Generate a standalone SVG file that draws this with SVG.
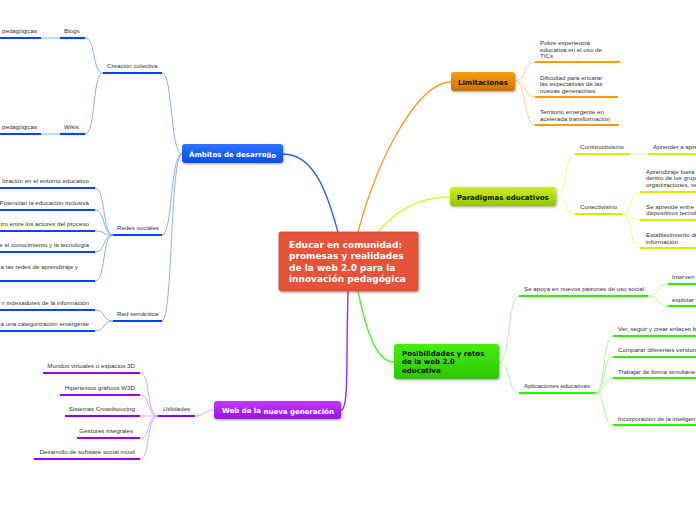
<svg xmlns="http://www.w3.org/2000/svg" width="696" height="520" viewBox="0 0 696 520">
<defs>
<filter id="sh" x="-10%" y="-10%" width="130%" height="140%"><feDropShadow dx="0.8" dy="1.2" stdDeviation="0.9" flood-color="#000" flood-opacity="0.35"/></filter>
<linearGradient id="gB" x1="0" y1="0" x2="0" y2="1"><stop offset="0" stop-color="#2f74ff"/><stop offset="1" stop-color="#0a4ee8"/></linearGradient>
<linearGradient id="gO" x1="0" y1="0" x2="0" y2="1"><stop offset="0" stop-color="#f99d12"/><stop offset="1" stop-color="#c97400"/></linearGradient>
<linearGradient id="gY" x1="0" y1="0" x2="0" y2="1"><stop offset="0" stop-color="#d2f01a"/><stop offset="1" stop-color="#92c400"/></linearGradient>
<linearGradient id="gG" x1="0" y1="0" x2="0" y2="1"><stop offset="0" stop-color="#44f010"/><stop offset="1" stop-color="#2cc600"/></linearGradient>
<linearGradient id="gP" x1="0" y1="0" x2="0" y2="1"><stop offset="0" stop-color="#c03cff"/><stop offset="1" stop-color="#9a10e8"/></linearGradient>
</defs>
<style>
.t{font-family:"Liberation Sans",Arial,sans-serif;font-size:6.2px;fill:#333}
.e{text-anchor:end}
.nb{font-family:"DejaVu Sans",Verdana,sans-serif;font-weight:bold;font-size:7px}
.w{fill:#fff}
.k{fill:#111}
.c{fill:none;stroke-width:0.9}
.m{fill:none;stroke-width:1.4}
.ub{stroke:#0a44f0;stroke-width:2.2}
.uo{stroke:#ff9a00;stroke-width:2.2}
.uy{stroke:#ccf000;stroke-width:2.2}
.ug{stroke:#33ee00;stroke-width:2.2}
.up{stroke:#9a00ee;stroke-width:2.2}
.cb{stroke:#7fa4ff}
.co{stroke:#ffc980}
.cy{stroke:#e4ff70}
.cg{stroke:#9dff8a}
.cp{stroke:#d99cff}
</style>

<g id="connectors">
<path class="m" stroke="#2563ff" d="M283,154 C318,154 330,205 338,232"/>
<path class="m" stroke="#ff9a1a" d="M358,232 C380,150 420,82 451,82"/>
<path class="m" stroke="#d4f53a" d="M378,232 C400,205 425,197 450,197"/>
<path class="m" stroke="#55f530" d="M358,291 C366,330 376,362 394,362"/>
<path class="m" stroke="#a925ee" d="M348,291 C346,360 349,410 341,410"/>
<!-- Ambitos -->
<path class="c cb" d="M182,154 C170,154 173,73 162,73"/>
<path class="c cb" d="M182,154 C170,154 173,235 162,235"/>
<path class="c cb" d="M182,154 C170,154 173,321 162,321"/>
<path class="c cb" d="M103,73 C92,73 96,38 85,38"/>
<path class="c cb" d="M103,73 C92,73 96,134 85,134"/>
<path class="c cb" d="M41,38 H60 M41,134 H60"/>
<path class="c cb" d="M113,235 C102,235 106,188 95,188"/>
<path class="c cb" d="M113,235 C102,235 106,210 95,210"/>
<path class="c cb" d="M113,235 C102,235 106,231 95,231"/>
<path class="c cb" d="M113,235 C102,235 106,252 95,252"/>
<path class="c cb" d="M113,235 C102,235 106,281 95,281"/>
<path class="c cb" d="M113,321 C102,321 106,310 95,310"/>
<path class="c cb" d="M113,321 C102,321 106,331 95,331"/>
<!-- Web -->
<path class="c cp" d="M214,410 C204,410 205,416 195,416"/>
<path class="c cp" d="M158,416 C146,416 151,373 140,373"/>
<path class="c cp" d="M158,416 C146,416 151,395 140,395"/>
<path class="c cp" d="M158,416 H140"/>
<path class="c cp" d="M158,416 C146,416 151,438 140,438"/>
<path class="c cp" d="M158,416 C146,416 151,459 140,459"/>
<!-- Limitaciones -->
<path class="c co" d="M515,81 C526,81 524,62 535,62"/>
<path class="c co" d="M515,81 C526,81 524,97 535,97"/>
<path class="c co" d="M515,81 C526,81 524,125 535,125"/>
<!-- Paradigmas -->
<path class="c cy" d="M556,197 C567,197 564,154 575,154"/>
<path class="c cy" d="M556,197 C567,197 564,214 575,214"/>
<path class="c cy" d="M630,154 H648"/>
<path class="c cy" d="M622,214 C633,214 629,192 640,192"/>
<path class="c cy" d="M622,214 C633,214 629,220 640,220"/>
<path class="c cy" d="M622,214 C633,214 629,248 640,248"/>
<!-- Posibilidades -->
<path class="c cg" d="M499,362 C511,362 507,296 519,296"/>
<path class="c cg" d="M499,362 C511,362 507,393 519,393"/>
<path class="c cg" d="M648,296 C659,296 657,284 668,284"/>
<path class="c cg" d="M648,296 C659,296 657,306 668,306"/>
<path class="c cg" d="M595,393 C606,393 602,336 613,336"/>
<path class="c cg" d="M595,393 C606,393 602,357 613,357"/>
<path class="c cg" d="M595,393 C606,393 602,378 613,378"/>
<path class="c cg" d="M595,393 C606,393 602,425 613,425"/>
</g>

<g id="center">
<rect x="279" y="232" width="139" height="59" rx="2" fill="#e5533a" stroke="#d24a33" stroke-width="0.8" filter="url(#sh)"/>
<text font-family="DejaVu Sans,Verdana,sans-serif" font-weight="bold" font-size="9px" fill="#fff">
<tspan x="289" y="248">Educar en comunidad:</tspan>
<tspan x="289" y="259.3">promesas y realidades</tspan>
<tspan x="289" y="270.6">de la web 2.0 para la</tspan>
<tspan x="289" y="281.9">innovación pedagógica</tspan>
</text>
</g>

<g id="ambitos">
<rect x="182" y="144" width="101" height="19" rx="3" fill="url(#gB)" filter="url(#sh)"/>
<text class="nb w" x="189" y="157">Ámbitos de desarro<tspan dy="0.8">llo</tspan></text>
</g>
<g id="creacion"><line class="ub" x1="103" y1="73" x2="162" y2="73"/><text class="t" x="107" y="68">Creación colectiva</text></g>
<g id="blogs"><line class="ub" x1="60" y1="38" x2="85" y2="38"/><text class="t" x="64" y="33">Blogs</text></g>
<g id="blogs-c"><line class="ub" x1="0" y1="38" x2="41" y2="38"/><text class="t" x="2" y="33">pedagógicas</text></g>
<g id="wikis"><line class="ub" x1="60" y1="134" x2="85" y2="134"/><text class="t" x="64" y="129">Wikis</text></g>
<g id="wikis-c"><line class="ub" x1="0" y1="134" x2="41" y2="134"/><text class="t" x="2" y="129">pedagógicas</text></g>
<g id="redes"><line class="ub" x1="113" y1="235" x2="162" y2="235"/><text class="t" x="117" y="230">Redes sociales</text></g>
<g id="redes-1"><line class="ub" x1="0" y1="188" x2="95" y2="188"/><text class="t e" x="89" y="183">lización  en el entorno educativo</text></g>
<g id="redes-2"><line class="ub" x1="0" y1="210" x2="95" y2="210"/><text class="t e" x="89" y="205">Potencian la educación inclusiva</text></g>
<g id="redes-3"><line class="ub" x1="0" y1="231" x2="95" y2="231"/><text class="t e" x="89" y="226">tro entre los actores del proceso</text></g>
<g id="redes-4"><line class="ub" x1="0" y1="252" x2="95" y2="252"/><text class="t e" x="89" y="247">e el conocimiento y la tecnología</text></g>
<g id="redes-5"><line class="ub" x1="0" y1="281" x2="95" y2="281"/><text class="t e" x="78" y="269">a las redes de aprendizaje y</text></g>
<g id="semantica"><line class="ub" x1="113" y1="321" x2="162" y2="321"/><text class="t" x="117" y="316">Red semántica</text></g>
<g id="sem-1"><line class="ub" x1="0" y1="310" x2="95" y2="310"/><text class="t e" x="89" y="304.5">n indexadores de la información</text></g>
<g id="sem-2"><line class="ub" x1="0" y1="331" x2="95" y2="331"/><text class="t e" x="89" y="325.5">a una categorización emergente</text></g>

<g id="web">
<rect x="214" y="401" width="127" height="18" rx="3" fill="url(#gP)" filter="url(#sh)"/>
<text class="nb w" x="222" y="413">Web de la <tspan dy="0.8">nueva generación</tspan></text>
</g>
<g id="utilidades"><line class="up" x1="158" y1="416" x2="195" y2="416"/><text class="t" x="163" y="410.5">Utilidades</text></g>
<g id="u1"><line class="up" x1="43" y1="373" x2="140" y2="373"/><text class="t e" x="135" y="367.5">Mundos virtuales o espacios 3D</text></g>
<g id="u2"><line class="up" x1="60" y1="395" x2="140" y2="395"/><text class="t e" x="135" y="389.5">Hipertextos gráficos W3D</text></g>
<g id="u3"><line class="up" x1="65" y1="416" x2="140" y2="416"/><text class="t e" x="135" y="410.5">Sistemas Crowdsoucing</text></g>
<g id="u4"><line class="up" x1="77" y1="438" x2="140" y2="438"/><text class="t e" x="133" y="432.5">Gestores integrales</text></g>
<g id="u5"><line class="up" x1="34" y1="459" x2="140" y2="459"/><text class="t e" x="135" y="453.5">Desarrollo de software social móvil</text></g>

<g id="limitaciones">
<rect x="451" y="72" width="64" height="19" rx="3" fill="url(#gO)" filter="url(#sh)"/>
<text class="nb k" x="458" y="84.5">Limitaciones</text>
</g>
<g id="l1"><line class="uo" x1="535" y1="62" x2="620" y2="62"/><text class="t"><tspan x="540" y="45">Pobre experiencia</tspan><tspan x="540" y="51.5">educativa en el uso de</tspan><tspan x="540" y="58">TICs</tspan></text></g>
<g id="l2"><line class="uo" x1="535" y1="97" x2="618" y2="97"/><text class="t"><tspan x="540" y="79.5">Dificultad para encarar</tspan><tspan x="540" y="86">las expectativas de las</tspan><tspan x="540" y="92.5">nuevas generacines</tspan></text></g>
<g id="l3"><line class="uo" x1="535" y1="125" x2="619" y2="125"/><text class="t"><tspan x="540" y="114">Territorio emergente en</tspan><tspan x="540" y="120.5">acelerada transformación</tspan></text></g>

<g id="paradigmas">
<rect x="450" y="187" width="106" height="19" rx="3" fill="url(#gY)" filter="url(#sh)"/>
<text class="nb k" x="457" y="199.5">Paradigmas educativos</text>
</g>
<g id="constructivismo"><line class="uy" x1="575" y1="154" x2="630" y2="154"/><text class="t" x="580" y="149">Constructivismo</text></g>
<g id="aprender"><line class="uy" x1="648" y1="154" x2="696" y2="154"/><text class="t" x="653" y="149">Aprender a apre</text></g>
<g id="conectivismo"><line class="uy" x1="575" y1="214" x2="622" y2="214"/><text class="t" x="580" y="209">Conectivismo</text></g>
<g id="c1"><line class="uy" x1="640" y1="192" x2="696" y2="192"/><text class="t"><tspan x="646" y="173.7">Aprendizaje fuera</tspan><tspan x="646" y="180.3">dentro de los grup</tspan><tspan x="646" y="187">organizaciones, se</tspan></text></g>
<g id="c2"><line class="uy" x1="640" y1="220" x2="696" y2="220"/><text class="t"><tspan x="646" y="208.7">Se aprende entre</tspan><tspan x="646" y="215.3">dispositivos tecnol</tspan></text></g>
<g id="c3"><line class="uy" x1="640" y1="248" x2="696" y2="248"/><text class="t"><tspan x="646" y="237">Establecimiento de</tspan><tspan x="646" y="243.6">información</tspan></text></g>

<g id="posibilidades">
<rect x="394" y="344" width="105" height="35" rx="3" fill="url(#gG)" filter="url(#sh)"/>
<text class="nb k"><tspan x="402" y="355.5">Posibilidades y retos</tspan><tspan x="402" y="364">de la web 2.0</tspan><tspan x="402" y="372.5">educativa</tspan></text>
</g>
<g id="apoya"><line class="ug" x1="519" y1="296" x2="648" y2="296"/><text class="t" x="524" y="291">Se apoya en nuevos patrones de uso social</text></g>
<g id="a1"><line class="ug" x1="668" y1="284" x2="696" y2="284"/><text class="t" x="672" y="279">Interven</text></g>
<g id="a2"><line class="ug" x1="668" y1="306" x2="696" y2="306"/><text class="t" x="672" y="301.5">explotar</text></g>
<g id="aplicaciones"><line class="ug" x1="519" y1="393" x2="595" y2="393"/><text class="t" x="524" y="388">Aplicaciones educativas</text></g>
<g id="p1"><line class="ug" x1="613" y1="336" x2="696" y2="336"/><text class="t" x="618" y="331">Ver, seguir y crear enlaces b</text></g>
<g id="p2"><line class="ug" x1="613" y1="357" x2="696" y2="357"/><text class="t" x="618" y="352">Comparar diferentes version</text></g>
<g id="p3"><line class="ug" x1="613" y1="378" x2="696" y2="378"/><text class="t" x="618" y="373.5">Trabajar de forma simultáne</text></g>
<g id="p4"><line class="ug" x1="613" y1="425" x2="696" y2="425"/><text class="t" x="618" y="420.5">Incorporación de la inteligen</text></g>
</svg>
